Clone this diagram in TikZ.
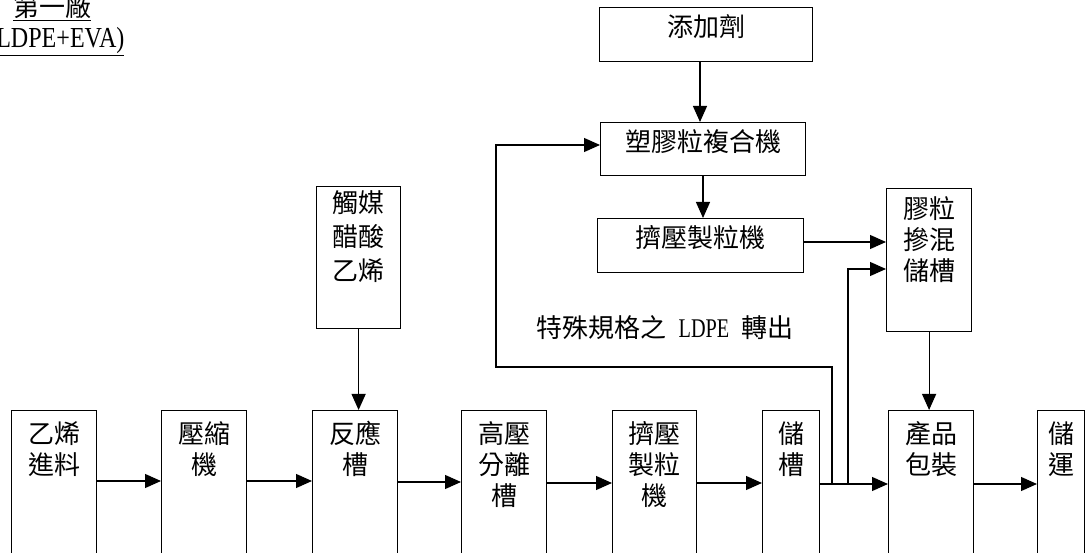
\documentclass[tikz,border=0pt]{standalone}
\usepackage{fontspec}
\setmainfont{Liberation Serif}
\newfontfamily\cjk{Noto Sans CJK TC}
\newfontfamily\latn[FakeStretch=0.75]{Liberation Serif}
\newfontfamily\latt[FakeStretch=0.83]{Liberation Serif}
\usetikzlibrary{arrows.meta}
\begin{document}
\begin{tikzpicture}[x=1pt,y=-1pt,line width=1.2pt,
  box/.style={draw,rectangle,anchor=north west,inner sep=0pt,line width=1.2pt},
  txt/.style={font=\cjk\fontsize{26}{31}\selectfont,align=center,inner sep=0pt},
  txtb/.style={font=\cjk\fontsize{26}{34}\selectfont,align=center,inner sep=0pt},
  arr/.style={-{Triangle[length=16pt,width=14pt]}}]
\useasboundingbox (0,0) rectangle (1088,553);
\clip (0,0) rectangle (1088,553);
\fill[white] (0,0) rectangle (1088,553);
% title
\node[font=\cjk\fontsize{26}{31}\selectfont,inner sep=0pt,anchor=base] (title1) at (52,17) {\underline{第一廠}};
\node[font=\latt\fontsize{29}{34}\selectfont,inner sep=0pt,anchor=base east] (title2) at (125,48) {\underline{(LDPE+EVA)}};
% bottom row boxes
\node[box,minimum width=85pt,minimum height=200pt] (B1) at (11,410) {};
\node[box,minimum width=85pt,minimum height=200pt] (B2) at (161,410) {};
\node[box,minimum width=85pt,minimum height=200pt] (B3) at (312,410) {};
\node[box,minimum width=85pt,minimum height=200pt] (B4) at (461,410) {};
\node[box,minimum width=84pt,minimum height=200pt] (B5) at (612,410) {};
\node[box,minimum width=57pt,minimum height=200pt] (B6) at (762,410) {};
\node[box,minimum width=85pt,minimum height=200pt] (B7) at (888,410) {};
\node[box,minimum width=47pt,minimum height=200pt] (B8) at (1037,410) {};
\node[txt,anchor=north] (L1) at ([yshift=-11pt]B1.north) {乙烯\\進料};
\node[txt,anchor=north] (L2) at ([yshift=-11pt]B2.north) {壓縮\\機};
\node[txt,anchor=north] (L3) at ([yshift=-11pt]B3.north) {反應\\槽};
\node[txt,anchor=north] (L4) at ([yshift=-11pt]B4.north) {高壓\\分離\\槽};
\node[txt,anchor=north] (L5) at ([yshift=-11pt]B5.north) {擠壓\\製粒\\機};
\node[txt,anchor=north] (L6) at ([yshift=-11pt]B6.north) {儲\\槽};
\node[txt,anchor=north] (L7) at ([yshift=-11pt]B7.north) {產品\\包裝};
\node[txt,anchor=north] (L8) at ([yshift=-11pt]B8.north) {儲\\運};
% upper boxes
\node[box,minimum width=213pt,minimum height=54pt] (T1) at (599,7) {};
\node[box,minimum width=205pt,minimum height=53pt] (T2) at (600,122) {};
\node[box,minimum width=206pt,minimum height=54pt] (T3) at (597,218) {};
\node[box,minimum width=85pt,minimum height=143pt] (T4) at (886,188) {};
\node[box,minimum width=84pt,minimum height=142pt] (T5) at (316,186) {};
\node[txt] (M1) at ([yshift=-20pt]T1.north) {添加劑};
\node[txt] (M2) at ([yshift=-20pt]T2.north) {塑膠粒複合機};
\node[txt] (M3) at ([yshift=-20pt]T3.north) {擠壓製粒機};
\node[txt,anchor=north] (M4) at ([yshift=-8pt]T4.north) {膠粒\\摻混\\儲槽};
\node[txtb,anchor=north] (M5) at ([yshift=-4pt]T5.north) {觸媒\\醋酸\\乙烯};
\node[font=\fontsize{26}{31}\selectfont,inner sep=0pt] (lab) at (665,328) {{\cjk 特殊規格之}\hspace{12pt}{\latn\fontsize{27}{31}\selectfont LDPE}\hspace{12pt}{\cjk 轉出}};
% connectors
\draw[arr] ([yshift=-71pt]B1.north east) -- ([yshift=-71pt]B2.north west);
\draw[arr] ([yshift=-71pt]B2.north east) -- ([yshift=-71pt]B3.north west);
\draw[arr] ([yshift=-72pt]B3.north east) -- ([yshift=-72pt]B4.north west);
\draw[arr] ([yshift=-73pt]B4.north east) -- ([yshift=-73pt]B5.north west);
\draw[arr] ([yshift=-73pt]B5.north east) -- ([yshift=-73pt]B6.north west);
\draw[arr] ([yshift=-74pt]B6.north east) -- ([yshift=-74pt]B7.north west);
\draw[arr] ([yshift=-74pt]B7.north east) -- ([yshift=-74pt]B8.north west);
\draw[arr] ([xshift=101pt]T1.south west) -- ([xshift=100pt]T2.north west);
\draw[arr] ([xshift=103pt]T2.south west) -- ([xshift=106pt]T3.north west);
\draw[arr] ([yshift=-24pt]T3.north east) -- ([yshift=-54pt]T4.north west);
\draw[arr] (T4.south) -- (T4.south |- B7.north);
\draw[arr] (T5.south) -- (T5.south |- B3.north);
\coordinate (j1) at (832,484);
\coordinate (j2) at (848,484);
\coordinate (c1) at (496,367);
\draw[arr] (j1) |- (c1) |- ([yshift=-23pt]T2.north west);
\draw[arr] (j2) |- ([yshift=-81pt]T4.north west);
\end{tikzpicture}
\end{document}
